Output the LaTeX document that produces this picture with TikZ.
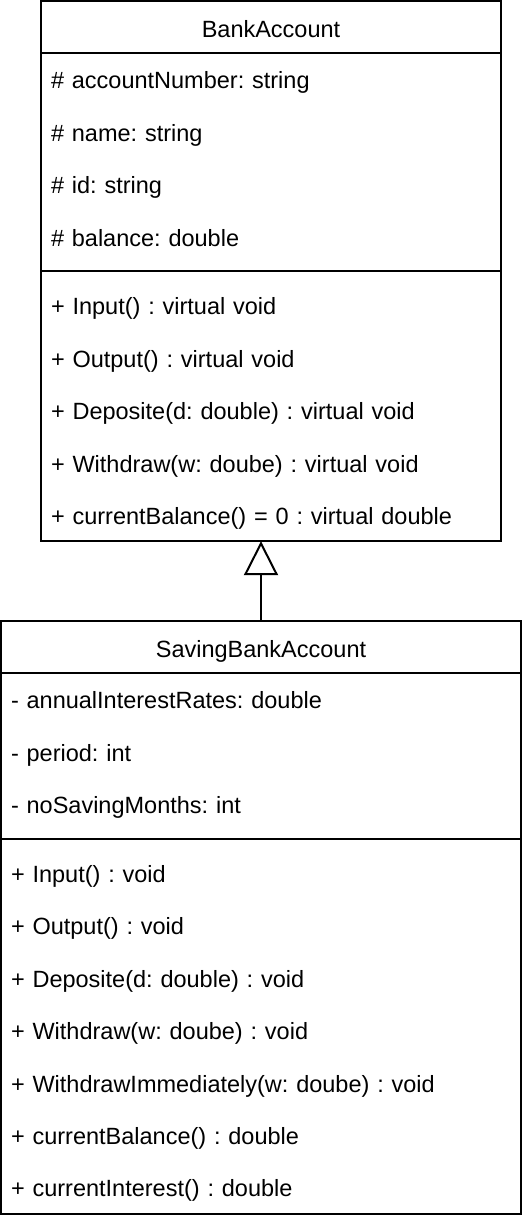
\documentclass[tikz,border=0pt]{standalone}
\usepackage{fontspec}
\setmainfont{Liberation Sans}
\usepackage{tikz}
\usetikzlibrary{arrows.meta, positioning}
\frenchspacing

\begin{document}
\begin{tikzpicture}[x=1pt, y=-1pt, node distance=0pt]
\tikzstyle{classhead} = [rectangle, minimum height=52pt, inner sep=0pt, text height=23pt, text depth=3pt, text centered, font=\fontsize{23.5}{28}\selectfont]
\tikzstyle{member} = [rectangle, minimum height=52pt, inner xsep=10pt, inner ysep=0pt, text height=22pt, text depth=3pt, align=left, font=\fontsize{23.5}{28}\selectfont]
\tikzstyle{divider} = [rectangle, minimum height=16pt, inner sep=0pt]
\tikzstyle{umlline} = [line width=2pt, draw=black]
\tikzstyle{inherit} = [umlline, -{Triangle[open, length=34pt, width=34pt]}, shorten >=0pt]

\useasboundingbox (0,0) rectangle (522,1216);

% Base class
\node (bank) [classhead, minimum width=460pt] at (271,27) {BankAccount};
\node (a1) [member, text width=440pt, below=of bank] {\# accountNumber: string};
\node (a2) [member, text width=440pt, below=of a1] {\# name: string};
\node (a3) [member, text width=440pt, below=of a2] {\# id: string};
\node (a4) [member, text width=440pt, below=of a3] {\# balance: double};
\node (s1) [divider, minimum width=460pt, below=of a4] {};
\node (m1) [member, text width=440pt, below=of s1] {+ Input() : virtual void};
\node (m2) [member, text width=440pt, below=of m1] {+ Output() : virtual void};
\node (m3) [member, text width=440pt, below=of m2] {+ Deposite(d: double) : virtual void};
\node (m4) [member, text width=440pt, below=of m3] {+ Withdraw(w: doube) : virtual void};
\node (m5) [member, text width=440pt, below=of m4] {+ currentBalance() = 0 : virtual double};

% Derived class
\node (sav) [classhead, minimum width=520pt] at (261,647) {SavingBankAccount};
\node (b1) [member, text width=500pt, below=of sav] {- annualInterestRates: double};
\node (b2) [member, text width=500pt, below=of b1] {- period: int};
\node (b3) [member, text width=500pt, below=of b2] {- noSavingMonths: int};
\node (s2) [divider, minimum width=520pt, below=of b3] {};
\node (n1) [member, text width=500pt, below=of s2] {+ Input() : void};
\node (n2) [member, text width=500pt, below=of n1] {+ Output() : void};
\node (n3) [member, text width=500pt, below=of n2] {+ Deposite(d: double) : void};
\node (n4) [member, text width=500pt, below=of n3] {+ Withdraw(w: doube) : void};
\node (n5) [member, text width=500pt, below=of n4] {+ WithdrawImmediately(w: doube) : void};
\node (n6) [member, text width=500pt, below=of n5] {+ currentBalance() : double};
\node (n7) [member, text width=500pt, below=of n6] {+ currentInterest() : double};

% Boxes
\draw [umlline] (bank.north west) rectangle (m5.south east);
\draw [umlline] (bank.south west) -- (bank.south east);
\draw [umlline] (s1.west) -- (s1.east);
\draw [umlline] (sav.north west) rectangle (n7.south east);
\draw [umlline] (sav.south west) -- (sav.south east);
\draw [umlline] (s2.west) -- (s2.east);

% Generalization
\draw [inherit] (sav.north) -- (sav.north |- m5.south);

\end{tikzpicture}
\end{document}
